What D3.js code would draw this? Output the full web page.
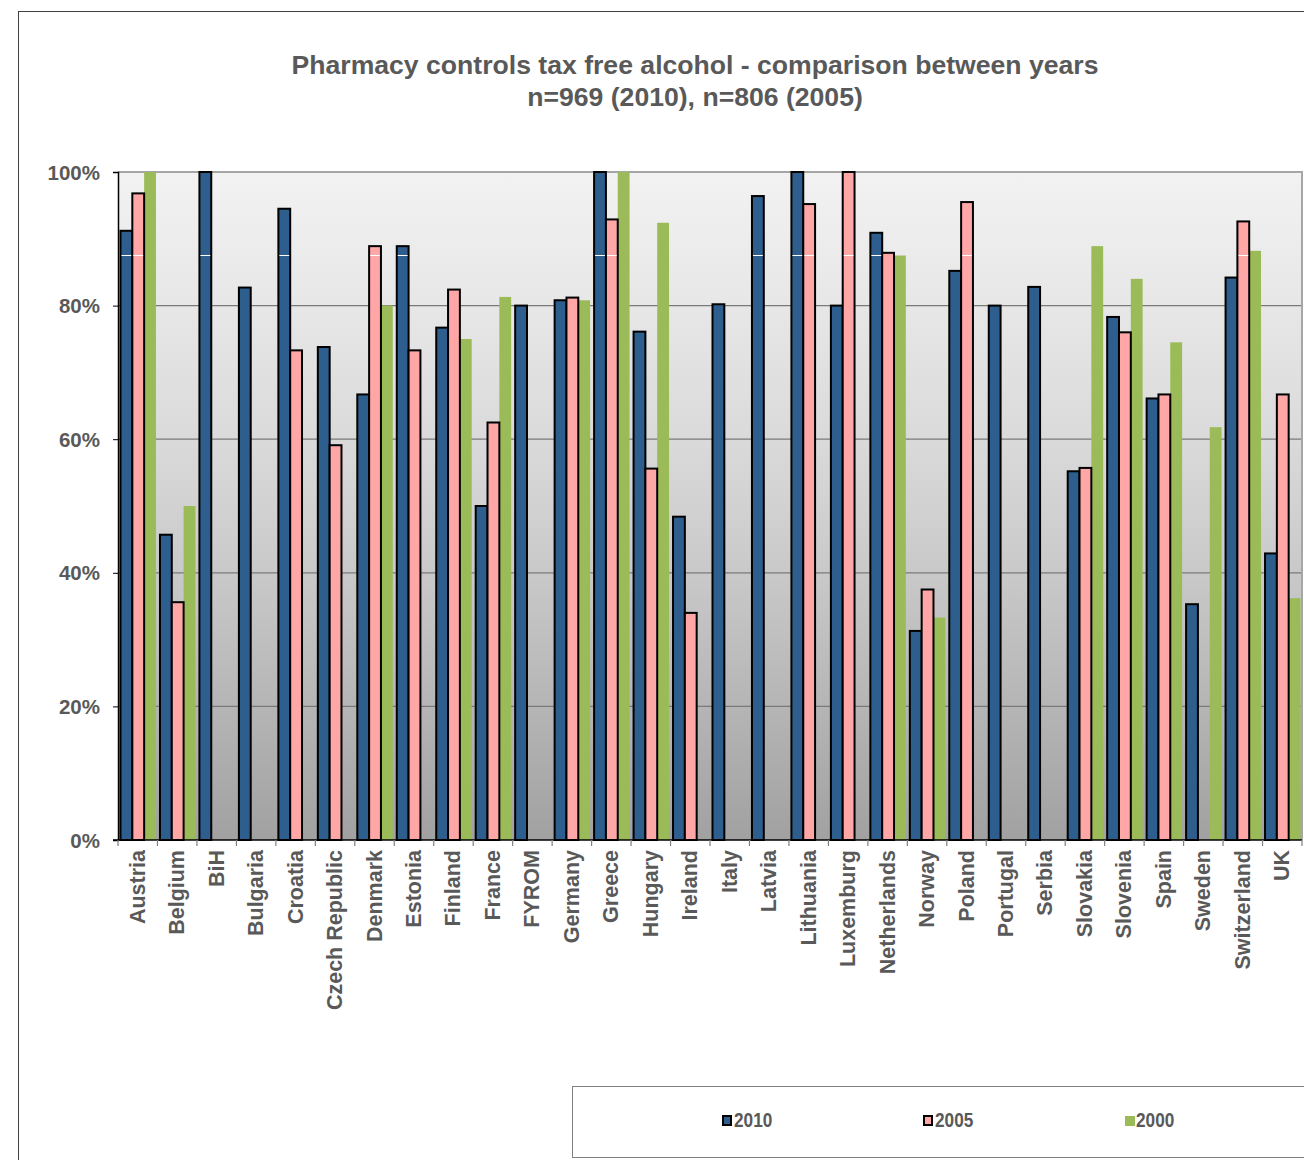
<!DOCTYPE html>
<html>
<head>
<meta charset="utf-8">
<script src="https://cdn.jsdelivr.net/npm/d3@7"></script>
<style>
  html, body { margin: 0; padding: 0; background: #ffffff; }
  svg { display: block; }
  text { font-family: "Liberation Sans", Arial, sans-serif; font-weight: bold; fill: #595959; }
</style>
</head>
<body>
<svg id="chart" width="1304" height="1160"></svg>
<script>
const categories = ["Austria","Belgium","BiH","Bulgaria","Croatia","Czech Republic","Denmark","Estonia","Finland","France","FYROM","Germany","Greece","Hungary","Ireland","Italy","Latvia","Lithuania","Luxemburg","Netherlands","Norway","Poland","Portugal","Serbia","Slovakia","Slovenia","Spain","Sweden","Switzerland","UK"];
const values2010 = [91.2, 45.7, 100, 82.7, 94.5, 73.8, 66.7, 88.9, 76.7, 50.0, 80.0, 80.8, 100, 76.1, 48.4, 80.2, 96.4, 100, 80.0, 90.9, 31.3, 85.2, 80.0, 82.8, 55.2, 78.3, 66.1, 35.3, 84.2, 42.9];
const values2005 = [96.8, 35.6, null, null, 73.3, 59.1, 88.9, 73.3, 82.4, 62.5, null, 81.2, 92.9, 55.6, 34.0, null, null, 95.2, 100, 87.9, 37.5, 95.5, null, null, 55.7, 76.0, 66.7, null, 92.6, 66.7];
const values2000 = [100, 50.0, null, null, null, null, 80.0, null, 75.0, 81.3, null, 80.8, 100, 92.4, null, null, null, null, null, 87.5, 33.3, null, null, null, 88.9, 84.0, 74.5, 61.8, 88.2, 36.2];
const seriesNames = ["2010", "2005", "2000"];
const yTicks = [0, 20, 40, 60, 80, 100];
const titleLines = ["Pharmacy controls tax free alcohol - comparison between years", "n=969 (2010), n=806 (2005)"];

const seriesValues = [values2010, values2005, values2000];
const colors = {"2010": "#2E5E8D", "2005": "#FFA6A6", "2000": "#9BBB59"};
const stroked = {"2010": true, "2005": true, "2000": false};

const svg = d3.select("#chart");
const plot = {left: 118, right: 1302, top: 172, bottom: 840};

// outer chart border
svg.append("rect").attr("x", 18.5).attr("y", 11.5).attr("width", 1300).attr("height", 1170)
  .attr("fill", "#ffffff").attr("stroke", "#404040").attr("stroke-width", 1);

// gradient background
const defs = svg.append("defs");
const grad = defs.append("linearGradient").attr("id", "bg").attr("x1", 0).attr("y1", 0).attr("x2", 0).attr("y2", 1);
[[0, "#f2f2f2"], [0.2, "#e7e7e7"], [0.4, "#dadada"], [0.6, "#c9c9c9"], [0.8, "#b5b5b5"], [1, "#a1a1a1"]]
  .forEach(([o, c]) => grad.append("stop").attr("offset", o).attr("stop-color", c));

const x0 = d3.scaleBand().domain(categories).range([plot.left, plot.right]).paddingInner(0).paddingOuter(0);
const bw = x0.bandwidth();
const x1 = d3.scaleBand().domain(seriesNames).range([2.5, bw - 1.5]).padding(0);
const y = d3.scaleLinear().domain([0, 100]).range([plot.bottom, plot.top]);

svg.append("rect").attr("x", plot.left).attr("y", plot.top)
  .attr("width", plot.right - plot.left).attr("height", plot.bottom - plot.top)
  .attr("fill", "url(#bg)");

// gridlines
svg.append("g").selectAll("line").data(yTicks.filter(d => d > 0 && d < 100)).join("line")
  .attr("x1", plot.left).attr("x2", plot.right)
  .attr("y1", d => y(d)).attr("y2", d => y(d))
  .attr("stroke", "#7a7a7a").attr("stroke-width", 1.2);

// plot border top & right
svg.append("path")
  .attr("d", `M${plot.left},${y(100)}H${plot.right}V${plot.bottom}`)
  .attr("fill", "none").attr("stroke", "#a6a6a6").attr("stroke-width", 2);

// bars
const barData = [];
categories.forEach((c, i) => {
  seriesNames.forEach((s, k) => {
    const v = seriesValues[k][i];
    if (v != null) barData.push({cat: c, series: s, value: v});
  });
});
const order = ["2000", "2010", "2005"];
const gBars = svg.append("g");
order.forEach(s => {
  gBars.selectAll(null).data(barData.filter(d => d.series === s)).join("rect")
    .attr("x", d => x0(d.cat) + x1(d.series))
    .attr("y", d => y(d.value))
    .attr("width", x1.bandwidth())
    .attr("height", d => y(0) - y(d.value))
    .attr("fill", colors[s])
    .attr("stroke", stroked[s] ? "#000000" : "none")
    .attr("stroke-width", 2);
});

// faint white line seen in the reference at 87.5% across outlined bars
gBars.selectAll(null).data(barData.filter(d => stroked[d.series] && d.value > 88)).join("line")
  .attr("x1", d => x0(d.cat) + x1(d.series) + 1)
  .attr("x2", d => x0(d.cat) + x1(d.series) + x1.bandwidth() - 1)
  .attr("y1", y(87.5)).attr("y2", y(87.5))
  .attr("stroke", "#ffffff").attr("stroke-width", 1);

// y axis
const yAxis = d3.axisLeft(y).tickValues(yTicks).tickFormat(d => d + "%").tickSize(5).tickPadding(13);
const gy = svg.append("g").attr("transform", `translate(${plot.left},0)`).call(yAxis);
gy.select(".domain").attr("stroke", "#000000").attr("stroke-width", 1.5);
gy.selectAll(".tick line").attr("stroke", "#000000");
gy.selectAll(".tick text").style("font-size", "20.5px").style("font-family", "Liberation Sans, Arial, sans-serif")
  .style("font-weight", "bold").attr("fill", "#595959").attr("dy", "0.35em");

// x axis baseline and boundary ticks
svg.append("line").attr("x1", plot.left - 5).attr("x2", plot.right)
  .attr("y1", plot.bottom).attr("y2", plot.bottom).attr("stroke", "#000000").attr("stroke-width", 1.5);
const boundaries = categories.map(c => x0(c)).concat([x0(categories[categories.length - 1]) + bw]);
svg.append("g").selectAll("line").data(boundaries).join("line")
  .attr("x1", d => d).attr("x2", d => d)
  .attr("y1", plot.bottom).attr("y2", plot.bottom + 6)
  .attr("stroke", "#7f7f7f").attr("stroke-width", 1.2);

// x labels
svg.append("g").selectAll("text").data(categories).join("text")
  .attr("transform", d => `translate(${x0(d) + bw / 2 + 7},${plot.bottom + 10}) rotate(-90)`)
  .attr("text-anchor", "end")
  .style("font-size", "21.5px")
  .text(d => d);

// title
svg.append("g").selectAll("text").data(titleLines).join("text")
  .attr("x", 695).attr("y", (d, i) => 74 + i * 32)
  .attr("text-anchor", "middle")
  .style("font-size", "26.6px")
  .text(d => d);

// legend
svg.append("rect").attr("x", 572.5).attr("y", 1086.5).attr("width", 760).attr("height", 71)
  .attr("fill", "#ffffff").attr("stroke", "#808080").attr("stroke-width", 1);
const legendX = d3.scalePoint().domain(seriesNames).range([723, 1125]);
const lg = svg.append("g").selectAll("g").data(seriesNames).join("g")
  .attr("transform", d => `translate(${legendX(d)},1116)`);
lg.append("rect").attr("x", 0).attr("y", 0).attr("width", d => stroked[d] ? 8 : 10).attr("height", d => stroked[d] ? 9 : 10)
  .attr("fill", d => colors[d]).attr("stroke", d => stroked[d] ? "#000000" : "none").attr("stroke-width", 2);
lg.append("text").attr("transform", "translate(11,11) scale(0.82,1)")
  .style("font-size", "21px").text(d => d);
</script>
</body>
</html>
